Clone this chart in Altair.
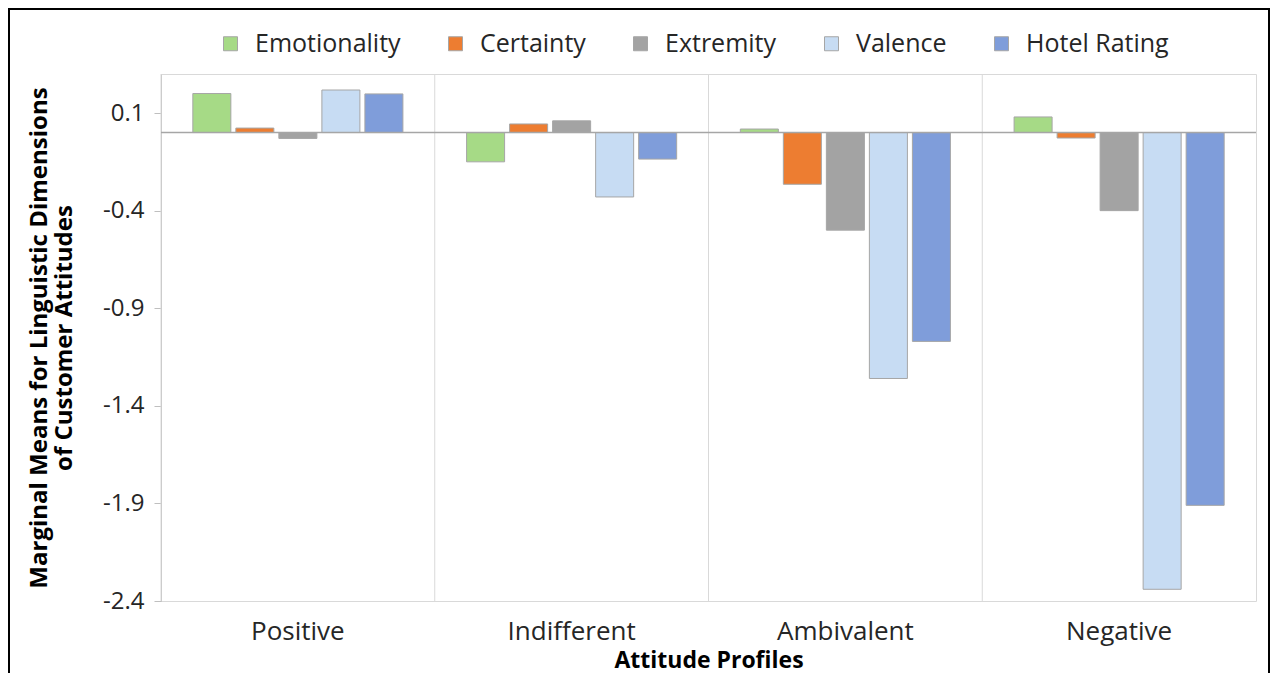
import altair as alt
import pandas as pd

profiles = ["Positive", "Indifferent", "Ambivalent", "Negative"]
dimensions = ["Emotionality", "Certainty", "Extremity", "Valence", "Hotel Rating"]
emotionality = [0.20, -0.15, 0.018, 0.08]
certainty = [0.023, 0.044, -0.265, -0.028]
extremity = [-0.03, 0.06, -0.50, -0.40]
valence = [0.218, -0.33, -1.26, -2.34]
hotel_rating = [0.198, -0.136, -1.07, -1.91]
colors = ["#a6da86", "#ed7d31", "#a3a3a3", "#c7dcf3", "#7f9dda"]
y_ticks = [0.1, -0.4, -0.9, -1.4, -1.9, -2.4]

series = [emotionality, certainty, extremity, valence, hotel_rating]
rows = []
for dim, vals in zip(dimensions, series):
    for prof, v in zip(profiles, vals):
        rows.append({"Profile": prof, "Dimension": dim, "Value": v})
df = pd.DataFrame(rows)
one = pd.DataFrame({"a": [0]})
prof_df = pd.DataFrame({"Profile": profiles})

x_axis = alt.Axis(title="Attitude Profiles", labelAngle=0, labelAlign="center",
                  ticks=False, domain=False, grid=False,
                  labelFontSize=26, labelColor="#262626", labelPadding=17,
                  titleFontSize=23, titleFontWeight="bold", titlePadding=5,
                  titleColor="#000000")

bars = alt.Chart(df).mark_bar(stroke="#a6a6a6", strokeWidth=1).encode(
    x=alt.X("Profile:N", sort=profiles,
            scale=alt.Scale(paddingInner=0, paddingOuter=0), axis=x_axis),
    xOffset=alt.XOffset("Dimension:N", sort=dimensions,
                        scale=alt.Scale(paddingInner=0.116, paddingOuter=0.74)),
    y=alt.Y("Value:Q",
            scale=alt.Scale(domain=[-2.4, 0.3], nice=False),
            axis=alt.Axis(values=y_ticks,
                          labelExpr="replace(format(datum.value, '.1f'), '\u2212', '-')",
                          grid=False, domainColor="#bfbfbf", tickColor="#bfbfbf",
                          tickSize=7, labelFontSize=24, labelColor="#262626",
                          labelPadding=10,
                          title=["Marginal Means for Linguistic Dimensions", "of Customer Attitudes"],
                          titleFontSize=24, titleFontWeight="bold", titleColor="#000000",
                          titlePadding=26, titleLineHeight=25)),
    fill=alt.Fill("Dimension:N", sort=dimensions,
                  scale=alt.Scale(domain=dimensions, range=colors),
                  legend=alt.Legend(title=None, orient="none", direction="horizontal",
                                    legendX=57, legendY=-43, columns=5,
                                    symbolType="square", symbolSize=196,
                                    symbolStrokeColor="#a6a6a6", symbolStrokeWidth=1,
                                    labelFontSize=25, labelColor="#262626",
                                    labelOffset=12, columnPadding=42)),
)

separators = alt.Chart(prof_df).mark_rule(color="#d9d9d9", strokeWidth=1).encode(
    x=alt.X("Profile:N", sort=profiles, bandPosition=0, axis=x_axis)
)

zero_line = alt.Chart(one).mark_rule(color="#a6a6a6", strokeWidth=1.5).encode(
    y=alt.datum(0)
)

border = alt.Chart(one).mark_rect(fillOpacity=0, stroke="#000000", strokeWidth=2).encode(
    x=alt.value(-152), x2=alt.value(1108), y=alt.value(-65), y2=alt.value(640)
)

chart = alt.layer(separators, bars, zero_line, border).properties(
    width=1095, height=527,
    padding={"left": 153, "top": 66, "right": 14, "bottom": 72},
    autosize=alt.AutoSizeParams(type="none"),
).configure(font="Open Sans").configure_view(stroke="#d9d9d9", strokeWidth=1)

chart.save("out.html", embed_options={"renderer": "svg", "actions": False})
